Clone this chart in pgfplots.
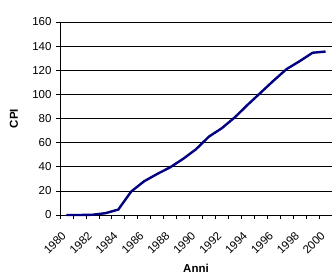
\documentclass[border=0pt]{standalone}
\usepackage{pgfplots}
\pgfplotsset{compat=1.18}
\usepackage{fontspec}
\setmainfont{Liberation Sans}
\definecolor{navyline}{RGB}{0,0,128}
\begin{document}
\begin{tikzpicture}
\begin{axis}[
  scale only axis,
  width=272pt, height=193pt,
  xmin=1979.5, xmax=2000.5,
  ymin=0, ymax=160,
  ytick={0,20,...,160},
  xtick={1979.5,1981.5,...,1999.5},
  xticklabels={1980,1982,1984,1986,1988,1990,1992,1994,1996,1998,2000},
  minor xtick={1980.5,1982.5,...,2000.5},
  axis x line*=bottom,
  axis y line*=left,
  tick align=outside,
  major tick length=4pt,
  minor tick length=4pt,
  ymajorgrids,
  grid style={black, line width=0.7pt},
  axis line style={black, line width=0.7pt},
  tick style={black, line width=0.7pt},
  /pgf/number format/assume math mode=true,
  ticklabel style={font=\fontsize{11.5}{13}\selectfont},
  yticklabel style={xshift=-1pt},
  xticklabel style={xshift=1pt, yshift=-7pt, rotate=45, anchor=north east},
  xlabel={\textbf{Anni}},
  ylabel={\textbf{CPI}},
  label style={font=\fontsize{11.5}{13}\selectfont},
  xlabel style={at={(axis description cs:0.5,-0.2746)}, anchor=center},
  ylabel style={at={(axis description cs:-0.169,0.5)}, anchor=center},
  clip=false,
]
\addplot[navyline, line width=2.4pt] coordinates {
(1980,0) (1981,0) (1982,0.2) (1983,1.5) (1984,4.5) (1985,19.5) (1986,28)
(1987,34) (1988,39.5) (1989,46.5) (1990,54.5) (1991,65) (1992,72)
(1993,81) (1994,91.5) (1995,101.5) (1996,111.5) (1997,121) (1998,127.5)
(1999,134.5) (2000,135.5)
};
\end{axis}
\pgfresetboundingbox
\path ([shift={(-60pt,-61pt)}]current axis.south west) rectangle ([shift={(272pt,215pt)}]current axis.south west);
\end{tikzpicture}
\end{document}
